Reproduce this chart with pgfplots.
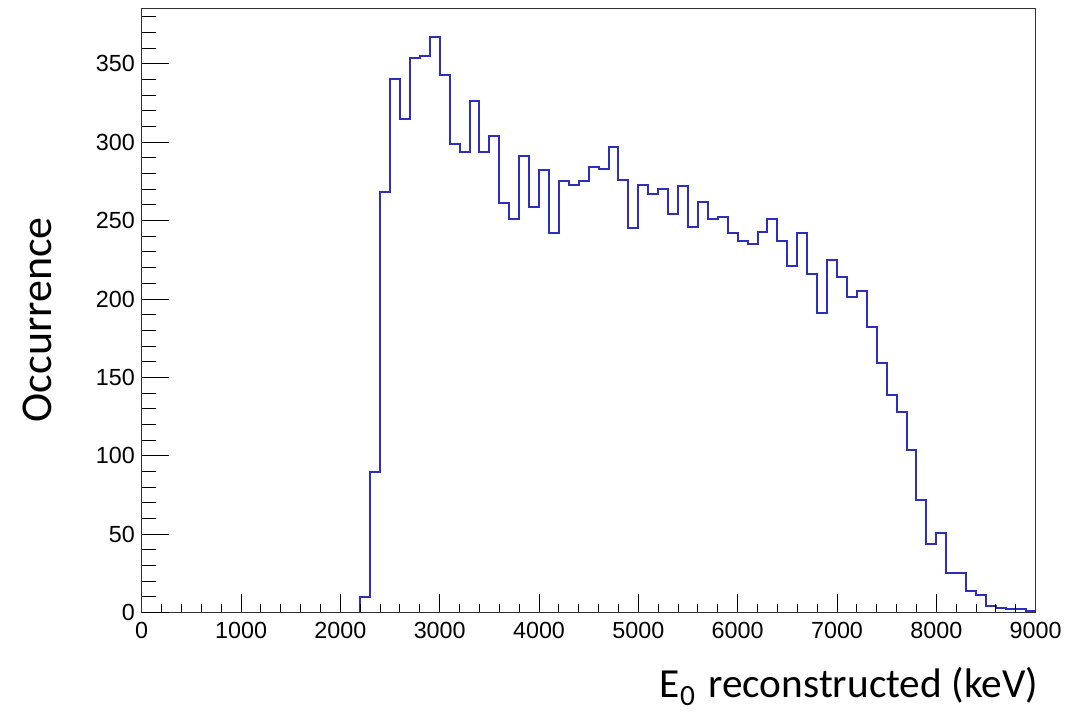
\documentclass[border=0pt]{standalone}
\usepackage{fontspec}
\usepackage{pgfplots}
\usepackage{pgfplotstable}
\pgfplotsset{compat=1.18}
\newfontfamily\tickfont{Liberation Sans}
\newfontfamily\labelfont{Carlito}
\definecolor{histblue}{RGB}{45,45,190}
\definecolor{framegray}{RGB}{50,50,50}

\pgfplotstableread{
x y
2200 0
2200 10
2300 90
2400 268
2500 340
2600 315
2700 354
2800 355
2900 367
3000 343
3100 299
3200 294
3300 326
3400 294
3500 304
3600 261
3700 251
3800 291
3900 259
4000 282
4100 242
4200 275
4300 273
4400 275
4500 284
4600 283
4700 297
4800 276
4900 245
5000 273
5100 267
5200 270
5300 254
5400 272
5500 246
5600 262
5700 251
5800 252
5900 242
6000 237
6100 235
6200 243
6300 251
6400 237
6500 221
6600 242
6700 216
6800 191
6900 225
7000 214
7100 201
7200 205
7300 182
7400 159
7500 139
7600 128
7700 104
7800 72
7900 44
8000 51
8100 25
8200 25
8300 14
8400 11
8500 4
8600 3
8700 2
8800 2
8900 1
9000 0
}\histdata

\begin{document}
\begin{tikzpicture}
\useasboundingbox (-106.3pt,-76pt) rectangle (694pt,459.5pt);
% main axis: frame, x ticks, histogram, labels
\begin{axis}[
  at={(0pt,0pt)}, anchor=south west,
  scale only axis, width=670.5pt, height=452.8pt,
  xmin=0, xmax=9000, ymin=0, ymax=385,
  axis line style={draw=framegray, line width=0.8pt},
  axis on top,
  tick align=inside,
  xtick={0,1000,...,9000},
  minor xtick={0,200,...,9000},
  xtick pos=left,
  ytick=\empty,
  major tick length=13.75pt, minor tick length=6.5pt,
  every tick/.style={black, line width=0.75pt},
  scaled x ticks=false,
  /pgf/number format/1000 sep={},
  /pgf/number format/assume math mode=true,
  xticklabel style={font=\tickfont\fontsize{17.5}{17.5}\selectfont, inner sep=0pt, yshift=-6.75pt},
  xlabel={E\raisebox{-6pt}{\fontsize{22}{22}\selectfont 0}\hspace{3pt} reconstructed (keV)},
  xlabel style={font=\labelfont\fontsize{31}{31}\selectfont, at={(axis description cs:1.003,-0.1413)}, anchor=base east, inner sep=0pt},
  ylabel={Occurrence},
  ylabel style={font=\labelfont\fontsize{33}{33}\selectfont, at={(axis description cs:-0.1014,0.4852)}, anchor=base, inner sep=0pt},
]
\addplot[const plot mark left, histblue, line width=1.5pt, line join=miter] table[x=x, y=y] {\histdata};
\end{axis}
% second axis: y ticks only (longer tick length)
\begin{axis}[
  at={(0pt,0pt)}, anchor=south west,
  scale only axis, width=670.5pt, height=452.8pt,
  xmin=0, xmax=9000, ymin=0, ymax=385,
  axis line style={draw=none},
  tick align=inside,
  xtick=\empty,
  ytick={0,50,...,350},
  minor ytick={0,10,...,380},
  ytick pos=left,
  major tick length=20.5pt, minor tick length=10.5pt,
  every tick/.style={black, line width=0.75pt},
  /pgf/number format/assume math mode=true,
  yticklabel style={font=\tickfont\fontsize{17.5}{17.5}\selectfont, inner sep=0pt, xshift=-5pt},
]
\end{axis}
\end{tikzpicture}
\end{document}
